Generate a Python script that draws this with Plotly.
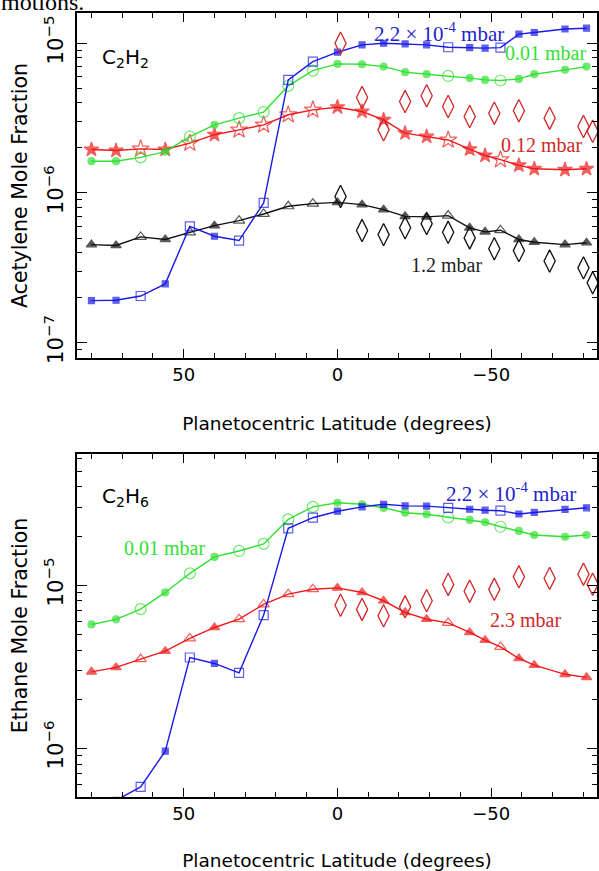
import plotly.graph_objects as go

# ---------------- data ----------------
lat = [80, 72, 64, 56, 48, 40, 32, 24, 16, 8, 0, -8, -15, -22, -29, -36,
       -43, -48, -53, -59, -64, -74, -81]
# points drawn with open symbols
is_open = [False, False, True, False, True, False, True, True, True, True,
           False, False, False, False, False, True, False, False, True,
           False, False, False, False]

# Acetylene (C2H2) mole fractions
c2h2_p22e4 = [1.91e-7, 1.92e-7, 2.05e-7, 2.47e-7, 5.98e-7, 5.14e-7, 4.81e-7,
              8.58e-7, 5.69e-6, 7.53e-6, 8.71e-6, 9.75e-6, 1.0e-5, 9.89e-6,
              9.75e-6, 9.40e-6, 9.35e-6, 9.27e-6, 9.35e-6, 1.15e-5, 1.18e-5,
              1.245e-5, 1.26e-5]
c2h2_p001 = [1.63e-6, 1.63e-6, 1.73e-6, 1.89e-6, 2.38e-6, 2.85e-6, 3.16e-6,
             3.47e-6, 5.19e-6, 6.56e-6, 7.28e-6, 7.24e-6, 6.98e-6, 6.41e-6,
             6.21e-6, 6.05e-6, 5.85e-6, 5.69e-6, 5.64e-6, 5.78e-6, 6.21e-6,
             6.64e-6, 6.98e-6]
c2h2_p012 = [1.95e-6, 1.92e-6, 1.97e-6, 1.95e-6, 2.15e-6, 2.45e-6, 2.64e-6,
             2.85e-6, 3.33e-6, 3.59e-6, 3.74e-6, 3.50e-6, 3.08e-6, 2.51e-6,
             2.38e-6, 2.26e-6, 1.96e-6, 1.78e-6, 1.67e-6, 1.53e-6, 1.45e-6,
             1.43e-6, 1.45e-6]
c2h2_p12 = [4.52e-7, 4.46e-7, 5.09e-7, 4.89e-7, 5.46e-7, 6.05e-7, 6.53e-7,
            7.24e-7, 8.15e-7, 8.49e-7, 8.65e-7, 8.36e-7, 7.74e-7, 6.98e-7,
            6.92e-7, 7.06e-7, 5.85e-7, 5.50e-7, 5.64e-7, 4.89e-7, 4.69e-7,
            4.52e-7, 4.65e-7]

# Ethane (C2H6) mole fractions
c2h6_p22e4 = [4.68e-7, 4.79e-7, 5.79e-7, 9.59e-7, 3.60e-6, 3.31e-6, 2.90e-6,
              6.55e-6, 2.23e-5, 2.59e-5, 2.84e-5, 3.02e-5, 3.13e-5, 3.06e-5,
              3.05e-5, 2.98e-5, 2.92e-5, 2.88e-5, 2.86e-5, 2.73e-5, 2.79e-5,
              2.91e-5, 2.98e-5]
c2h6_p001 = [5.74e-6, 6.17e-6, 7.13e-6, 9.02e-6, 1.18e-5, 1.49e-5, 1.62e-5,
             1.79e-5, 2.53e-5, 3.02e-5, 3.20e-5, 3.13e-5, 2.98e-5, 2.78e-5,
             2.72e-5, 2.60e-5, 2.51e-5, 2.43e-5, 2.28e-5, 2.15e-5, 2.03e-5,
             1.98e-5, 2.03e-5]
c2h6_p23 = [2.94e-6, 3.13e-6, 3.52e-6, 3.94e-6, 4.71e-6, 5.50e-6, 6.18e-6,
            7.62e-6, 8.81e-6, 9.44e-6, 9.62e-6, 9.02e-6, 8.02e-6, 6.81e-6,
            6.18e-6, 5.87e-6, 5.13e-6, 4.60e-6, 4.18e-6, 3.55e-6, 3.23e-6,
            2.84e-6, 2.72e-6]

# Separate measurements (diamonds)
diam_lat = [-1, -8, -15, -22, -29, -36, -43, -51, -59, -69, -80, -83]
c2h2_diam_red = [1.0e-5, 4.34e-6, 2.64e-6, 4.08e-6, 4.46e-6, 3.78e-6,
                 3.24e-6, 3.41e-6, 3.54e-6, 3.16e-6, 2.78e-6, 2.58e-6]
c2h2_diam_blk = [9.48e-7, 5.61e-7, 5.27e-7, 5.85e-7, 6.24e-7, 5.46e-7,
                 5.01e-7, 4.24e-7, 4.12e-7, 3.51e-7, 3.16e-7, 2.51e-7]
c2h6_diam_red = [7.53e-6, 7.10e-6, 6.49e-6, 7.36e-6, 8.02e-6, 1.01e-5,
                 9.18e-6, 9.42e-6, 1.125e-5, 1.10e-5, 1.167e-5, 1.014e-5]

x_ticks = [50, 0, -50]
x_ticklabels = ["50", "0", "\u221250"]

# ---------------- styling ----------------
BLUE = "#1a1ae6"
GREEN = "#33e033"
RED = "#ee1a1a"
DRED = "#d02828"
BLACK = "#111111"

fig = go.Figure()


def series(y, color, base, small, big, xa, ya, lw=1.4):
    syms = [base + "-open" if o else base for o in is_open]
    sizes = [big if o else small for o in is_open]
    fig.add_trace(go.Scatter(
        x=lat, y=y, mode="lines+markers", xaxis=xa, yaxis=ya,
        line=dict(color=color, width=lw),
        marker=dict(symbol=syms, size=sizes, color=color,
                    line=dict(color=color, width=1.2)),
        showlegend=False, cliponaxis=True))


def diamonds(x, y, color, xa, ya):
    fig.add_trace(go.Scatter(
        x=x, y=y, mode="markers", xaxis=xa, yaxis=ya,
        marker=dict(symbol="diamond-tall-open", size=16, color=color,
                    line=dict(color=color, width=1.3)),
        showlegend=False))


# top panel
series(c2h2_p12, BLACK, "triangle-up", 9, 10, "x", "y")
series(c2h2_p012, RED, "star", 11, 13, "x", "y")
series(c2h2_p001, GREEN, "circle", 7, 11, "x", "y")
series(c2h2_p22e4, BLUE, "square", 6, 9, "x", "y")
diamonds(diam_lat, c2h2_diam_red, DRED, "x", "y")
diamonds(diam_lat, c2h2_diam_blk, BLACK, "x", "y")

# bottom panel
series(c2h6_p23, RED, "triangle-up", 9, 10, "x2", "y2")
series(c2h6_p001, GREEN, "circle", 7, 11, "x2", "y2")
series(c2h6_p22e4, BLUE, "square", 6, 9, "x2", "y2")
diamonds(diam_lat, c2h6_diam_red, DRED, "x2", "y2")

SANS = "DejaVu Sans"
SERIF = "Liberation Serif"

xcommon = dict(
    range=[84.7, -84.4], showline=True, linecolor="black", linewidth=1.5,
    mirror="ticks", ticks="inside", ticklen=9, tickwidth=1.2,
    tickcolor="black", tickvals=x_ticks, ticktext=x_ticklabels,
    showgrid=False, zeroline=False, automargin=False,
    tickfont=dict(family=SANS, size=18, color="black"),
    minor=dict(ticks="inside", ticklen=5, tickwidth=1.2, tickcolor="black",
               tick0=0, dtick=10, showgrid=False),
    title=dict(text="Planetocentric Latitude (degrees)",
               font=dict(family=SANS, size=18.5, color="black"), standoff=33),
)
ycommon = dict(
    type="log", showline=True, linecolor="black", linewidth=1.5,
    mirror="ticks", ticks="inside", ticklen=10, tickwidth=1.2,
    tickcolor="black", dtick=1, exponentformat="power", showgrid=False,
    zeroline=False, tickangle=-90, automargin=False, ticklabelstandoff=5,
    tickfont=dict(family=SANS, size=17, color="black"),
    minor=dict(ticks="inside", ticklen=5, tickwidth=1.2, tickcolor="black",
               showgrid=False),
)

fig.update_layout(
    width=599, height=871,
    margin=dict(l=77, r=2, t=13, b=74),
    paper_bgcolor="white", plot_bgcolor="white",
    xaxis=dict(domain=[0, 1], anchor="y", **xcommon),
    yaxis=dict(domain=[0.560, 1.0], anchor="x",
               range=[-7.102, -4.798],
               title=dict(text="Acetylene Mole Fraction",
                          font=dict(family=SANS, size=20.5, color="black"),
                          standoff=6),
               **ycommon),
    xaxis2=dict(domain=[0, 1], anchor="y2", **xcommon),
    yaxis2=dict(domain=[0.0, 0.4375], anchor="x2",
                range=[-6.299, -4.196],
                title=dict(text="Ethane Mole Fraction",
                           font=dict(family=SANS, size=20.5, color="black"),
                           standoff=6),
                **ycommon),
)


def note(text, x, y, color, xa, ya, family=SERIF, size=20):
    fig.add_annotation(text=text, x=x, y=y, xref=xa, yref=ya,
                       showarrow=False, font=dict(family=family, size=size,
                                                  color=color))


note("C<sub>2</sub>H<sub>2</sub>", 68.8, -5.098, "black", "x", "y",
     family=SANS, size=20)
note("2.2 \u00d7 10<sup>-4</sup> mbar", -33.1, -4.925, "#2222cc", "x", "y",
     size=21)
note("0.01 mbar", -67.5, -5.065, GREEN, "x", "y")
note("0.12 mbar", -66.2, -5.678, DRED, "x", "y")
note("1.2 mbar", -35.4, -6.478, "#222222", "x", "y")

note("C<sub>2</sub>H<sub>6</sub>", 68.8, -4.46, "black", "x2", "y2",
     family=SANS, size=20)
note("0.01 mbar", 56.2, -4.773, GREEN, "x2", "y2")
note("2.2 \u00d7 10<sup>-4</sup> mbar", -56.5, -4.429, "#2222cc", "x2", "y2",
     size=21)
note("2.3 mbar", -61.0, -5.215, DRED, "x2", "y2")

# clipped line of page text above the figure
fig.add_annotation(text="motions.", x=0.0, y=1.0, xref="paper", yref="paper",
                   xanchor="left", yanchor="bottom", xshift=-78, yshift=-4,
                   showarrow=False,
                   font=dict(family=SERIF, size=24, color="black"))

fig.write_html("out.html", config={"displayModeBar": False},
               post_script="document.body.style.margin='0px';")
